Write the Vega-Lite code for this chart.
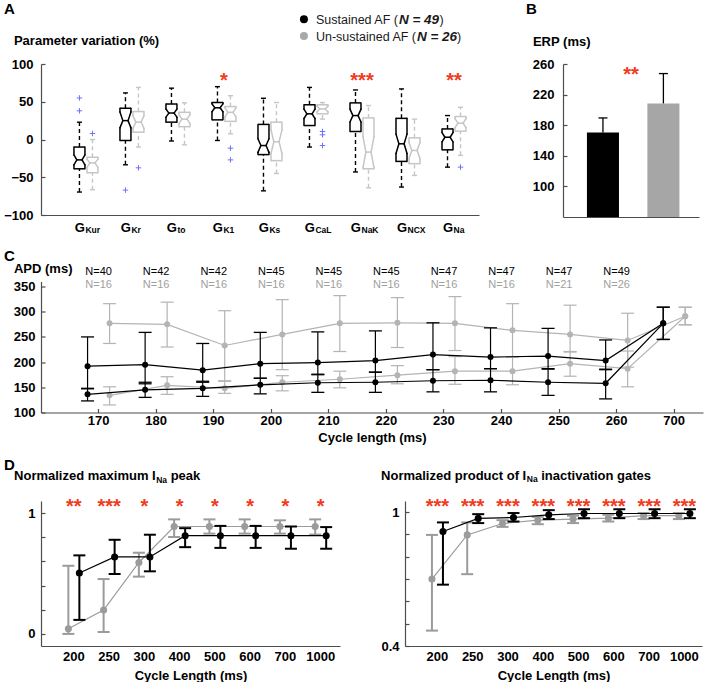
{
"$schema":"https://vega.github.io/schema/vega-lite/v6.json",
"background":"white",
"padding":{"left":3,"top":1,"right":3,"bottom":0},
"spacing":13.5,
"config":{
 "font":"Liberation Sans",
 "view":{"stroke":null},
 "axis":{"domainColor":"#4d4d4d","domainWidth":1.2,"tickColor":"#4d4d4d","tickWidth":1.2,"labelFont":"Liberation Sans","labelFontWeight":"bold","labelFontSize":13,"labelColor":"#000000","labelOverlap":false,"labelFlush":false,"titleFont":"Liberation Sans","titleFontWeight":"bold","titleFontSize":13,"titleColor":"#000000","grid":false},
 "tick":{"opacity":1},
 "point":{"opacity":1},
 "text":{"font":"Liberation Sans"}
},
"datasets":{
 "abox":[
  {"g":"GKur","grp":"S","wlo":-69.6,"q1":-38.8,"nlo":-33.5,"med":-27,"nhi":-20.5,"q3":-10,"whi":22.9},
  {"g":"GKur","grp":"U","wlo":-66.5,"q1":-44,"nlo":-37.2,"med":-31,"nhi":-26,"q3":-23.5,"whi":0},
  {"g":"GKr","grp":"S","wlo":-33.5,"q1":-1.3,"nlo":15.4,"med":25,"nhi":36.5,"q3":41.4,"whi":61.7},
  {"g":"GKr","grp":"U","wlo":-10,"q1":9.7,"nlo":14.7,"med":23,"nhi":31.3,"q3":37,"whi":69},
  {"g":"Gto","grp":"S","wlo":-2,"q1":23,"nlo":29.6,"med":35,"nhi":40.4,"q3":47,"whi":68},
  {"g":"Gto","grp":"U","wlo":-7,"q1":17,"nlo":21.1,"med":27,"nhi":32.9,"q3":36,"whi":48.5},
  {"g":"GK1","grp":"S","wlo":-1.3,"q1":26,"nlo":36.8,"med":42,"nhi":47.2,"q3":49,"whi":70},
  {"g":"GK1","grp":"U","wlo":7.5,"q1":24,"nlo":30,"med":36,"nhi":42,"q3":43.6,"whi":58},
  {"g":"GKs","grp":"S","wlo":-68,"q1":-20,"nlo":-17,"med":-8,"nhi":1,"q3":20,"whi":54.6},
  {"g":"GKs","grp":"U","wlo":-45,"q1":-28,"nlo":-18.7,"med":-3,"nhi":12.7,"q3":23,"whi":49},
  {"g":"GCaL","grp":"S","wlo":-10,"q1":18.5,"nlo":27.8,"med":34,"nhi":40.2,"q3":46,"whi":69},
  {"g":"GCaL","grp":"U","wlo":27,"q1":34,"nlo":36.8,"med":40.5,"nhi":44.2,"q3":46,"whi":49},
  {"g":"GNaK","grp":"S","wlo":-43,"q1":10.6,"nlo":23.2,"med":31.7,"nhi":40.2,"q3":48.5,"whi":65.6},
  {"g":"GNaK","grp":"U","wlo":-64,"q1":-38.8,"nlo":-37.4,"med":-16.7,"nhi":4,"q3":28.6,"whi":45},
  {"g":"GNCX","grp":"S","wlo":-63,"q1":-29,"nlo":-18.5,"med":-5.7,"nhi":7.1,"q3":28,"whi":67},
  {"g":"GNCX","grp":"U","wlo":-47.6,"q1":-32,"nlo":-25,"med":-14.5,"nhi":-4,"q3":2.2,"whi":27},
  {"g":"GNa","grp":"S","wlo":-36.6,"q1":-13.7,"nlo":-3.2,"med":3,"nhi":9.2,"q3":14,"whi":31.7},
  {"g":"GNa","grp":"U","wlo":-21,"q1":11,"nlo":15.6,"med":21.6,"nhi":27.6,"q3":30.4,"whi":42.7}
 ],
 "aout":[
  {"g":"GKur","grp":"S","v":55},{"g":"GKur","grp":"S","v":38},{"g":"GKur","grp":"U","v":8},
  {"g":"GKr","grp":"S","v":-67},{"g":"GKr","grp":"U","v":-37.5},
  {"g":"GK1","grp":"U","v":-11.5},{"g":"GK1","grp":"U","v":-27},
  {"g":"GCaL","grp":"U","v":10.6},{"g":"GCaL","grp":"U","v":6.2},{"g":"GCaL","grp":"U","v":-8},
  {"g":"GNa","grp":"U","v":-36.6}
 ],
 "alab":[{"g":"GKur","sub":"Kur"},{"g":"GKr","sub":"Kr"},{"g":"Gto","sub":"to"},{"g":"GK1","sub":"K1"},{"g":"GKs","sub":"Ks"},{"g":"GCaL","sub":"CaL"},{"g":"GNaK","sub":"NaK"},{"g":"GNCX","sub":"NCX"},{"g":"GNa","sub":"Na"}],
 "astar":[{"g":"GK1","s":"*"},{"g":"GNaK","s":"***"},{"g":"GNa","s":"**"}],
 "leg":[{"grp":"S","lab":"Sustained AF (","n":"N = 49"},{"grp":"U","lab":"Un-sustained AF (","n":"N = 26"}],
 "b":[{"grp":"S","v":170.5,"hi":189.5},{"grp":"U","v":208.5,"hi":247.5}],
 "c":[
  {"cl":170,"grp":"S","ser":"a","v":192,"lo":147,"hi":250},
  {"cl":180,"grp":"S","ser":"a","v":195,"lo":157,"hi":259},
  {"cl":190,"grp":"S","ser":"a","v":184,"lo":160,"hi":237},
  {"cl":200,"grp":"S","ser":"a","v":197,"lo":168,"hi":259},
  {"cl":210,"grp":"S","ser":"a","v":199,"lo":175,"hi":260},
  {"cl":220,"grp":"S","ser":"a","v":203,"lo":180,"hi":262},
  {"cl":230,"grp":"S","ser":"a","v":215,"lo":185,"hi":278},
  {"cl":240,"grp":"S","ser":"a","v":210,"lo":187,"hi":268},
  {"cl":250,"grp":"S","ser":"a","v":212,"lo":187,"hi":267},
  {"cl":260,"grp":"S","ser":"a","v":203,"lo":186,"hi":244},
  {"cl":700,"grp":"S","ser":"a","v":277,"lo":245,"hi":309},
  {"cl":170,"grp":"S","ser":"b","v":136,"lo":123,"hi":148},
  {"cl":180,"grp":"S","ser":"b","v":145,"lo":130,"hi":160},
  {"cl":190,"grp":"S","ser":"b","v":148,"lo":132,"hi":162},
  {"cl":200,"grp":"S","ser":"b","v":155,"lo":137,"hi":168},
  {"cl":210,"grp":"S","ser":"b","v":159,"lo":140,"hi":176},
  {"cl":220,"grp":"S","ser":"b","v":160,"lo":140,"hi":180},
  {"cl":230,"grp":"S","ser":"b","v":163,"lo":141,"hi":185},
  {"cl":240,"grp":"S","ser":"b","v":164,"lo":141,"hi":187},
  {"cl":250,"grp":"S","ser":"b","v":160,"lo":134,"hi":186},
  {"cl":260,"grp":"S","ser":"b","v":158,"lo":127,"hi":185},
  {"cl":700,"grp":"S","ser":"b","v":277,"lo":245,"hi":309},
  {"cl":170,"grp":"U","ser":"a","v":277,"lo":237,"hi":316},
  {"cl":180,"grp":"U","ser":"a","v":275,"lo":230,"hi":319},
  {"cl":190,"grp":"U","ser":"a","v":233,"lo":162,"hi":302},
  {"cl":200,"grp":"U","ser":"a","v":255,"lo":185,"hi":324},
  {"cl":210,"grp":"U","ser":"a","v":277,"lo":221,"hi":332},
  {"cl":220,"grp":"U","ser":"a","v":278,"lo":229,"hi":328},
  {"cl":230,"grp":"U","ser":"a","v":277,"lo":223,"hi":330},
  {"cl":240,"grp":"U","ser":"a","v":263,"lo":210,"hi":316},
  {"cl":250,"grp":"U","ser":"a","v":255,"lo":220,"hi":313},
  {"cl":260,"grp":"U","ser":"a","v":243,"lo":190,"hi":297},
  {"cl":700,"grp":"U","ser":"a","v":291,"lo":274,"hi":309},
  {"cl":170,"grp":"U","ser":"b","v":134,"lo":115,"hi":151},
  {"cl":180,"grp":"U","ser":"b","v":154,"lo":136,"hi":171},
  {"cl":190,"grp":"U","ser":"b","v":148,"lo":138,"hi":163},
  {"cl":200,"grp":"U","ser":"b","v":160,"lo":143,"hi":173},
  {"cl":210,"grp":"U","ser":"b","v":166,"lo":149,"hi":182},
  {"cl":220,"grp":"U","ser":"b","v":174,"lo":157,"hi":193},
  {"cl":230,"grp":"U","ser":"b","v":182,"lo":156,"hi":211},
  {"cl":240,"grp":"U","ser":"b","v":182,"lo":155,"hi":210},
  {"cl":250,"grp":"U","ser":"b","v":197,"lo":172,"hi":221},
  {"cl":260,"grp":"U","ser":"b","v":187,"lo":151,"hi":222},
  {"cl":700,"grp":"U","ser":"b","v":291,"lo":274,"hi":309}
 ],
 "cn":[
  {"cl":170,"ns":"N=40","nu":"N=16"},{"cl":180,"ns":"N=42","nu":"N=16"},{"cl":190,"ns":"N=42","nu":"N=16"},
  {"cl":200,"ns":"N=45","nu":"N=16"},{"cl":210,"ns":"N=45","nu":"N=16"},{"cl":220,"ns":"N=45","nu":"N=16"},
  {"cl":230,"ns":"N=47","nu":"N=16"},{"cl":240,"ns":"N=47","nu":"N=16"},{"cl":250,"ns":"N=47","nu":"N=21"},
  {"cl":260,"ns":"N=49","nu":"N=26"}
 ],
 "dmax":[
  {"cl":200,"grp":"U","v":0.043,"lo":0,"hi":0.564},
  {"cl":250,"grp":"U","v":0.198,"lo":0.016,"hi":0.454},
  {"cl":300,"grp":"U","v":0.591,"lo":0.474,"hi":0.672},
  {"cl":400,"grp":"U","v":0.889,"lo":0.802,"hi":0.948},
  {"cl":500,"grp":"U","v":0.889,"lo":0.83,"hi":0.948},
  {"cl":600,"grp":"U","v":0.889,"lo":0.83,"hi":0.948},
  {"cl":700,"grp":"U","v":0.889,"lo":0.83,"hi":0.94},
  {"cl":1000,"grp":"U","v":0.889,"lo":0.822,"hi":0.948},
  {"cl":200,"grp":"S","v":0.504,"lo":0.116,"hi":0.65},
  {"cl":250,"grp":"S","v":0.637,"lo":0.496,"hi":0.779},
  {"cl":300,"grp":"S","v":0.637,"lo":0.518,"hi":0.821},
  {"cl":400,"grp":"S","v":0.813,"lo":0.718,"hi":0.875},
  {"cl":500,"grp":"S","v":0.813,"lo":0.712,"hi":0.894},
  {"cl":600,"grp":"S","v":0.813,"lo":0.712,"hi":0.894},
  {"cl":700,"grp":"S","v":0.813,"lo":0.705,"hi":0.889},
  {"cl":1000,"grp":"S","v":0.813,"lo":0.705,"hi":0.884}
 ],
 "dgate":[
  {"cl":200,"grp":"U","v":0.7,"lo":0.469,"hi":0.898},
  {"cl":250,"grp":"U","v":0.898,"lo":0.722,"hi":0.954},
  {"cl":300,"grp":"U","v":0.949,"lo":0.934,"hi":0.964},
  {"cl":400,"grp":"U","v":0.964,"lo":0.946,"hi":0.979},
  {"cl":500,"grp":"U","v":0.969,"lo":0.951,"hi":0.984},
  {"cl":600,"grp":"U","v":0.973,"lo":0.958,"hi":0.988},
  {"cl":700,"grp":"U","v":0.984,"lo":0.969,"hi":0.996},
  {"cl":1000,"grp":"U","v":0.984,"lo":0.969,"hi":0.996},
  {"cl":200,"grp":"S","v":0.913,"lo":0.675,"hi":0.954},
  {"cl":250,"grp":"S","v":0.972,"lo":0.951,"hi":0.991},
  {"cl":300,"grp":"S","v":0.976,"lo":0.958,"hi":0.996},
  {"cl":400,"grp":"S","v":0.988,"lo":0.969,"hi":1.009},
  {"cl":500,"grp":"S","v":0.994,"lo":0.973,"hi":1.013},
  {"cl":600,"grp":"S","v":0.994,"lo":0.973,"hi":1.013},
  {"cl":700,"grp":"S","v":0.994,"lo":0.973,"hi":1.013},
  {"cl":1000,"grp":"S","v":0.994,"lo":0.973,"hi":1.013}
 ],
 "dstar1":[{"cl":200,"s":"**"},{"cl":250,"s":"***"},{"cl":300,"s":"*"},{"cl":400,"s":"*"},{"cl":500,"s":"*"},{"cl":600,"s":"*"},{"cl":700,"s":"*"},{"cl":1000,"s":"*"}],
 "dstar2":[{"cl":200,"s":"***"},{"cl":250,"s":"***"},{"cl":300,"s":"***"},{"cl":400,"s":"***"},{"cl":500,"s":"***"},{"cl":600,"s":"***"},{"cl":700,"s":"***"},{"cl":1000,"s":"***"}]
},
"vconcat":[
  {"bounds":"flush","spacing":84,"hconcat":[
   {"width":438,"height":151,"data":{"name":"abox"},
    "encoding":{"x":{"field":"g","type":"nominal","scale":{"type":"band","domain":["GKur","GKr","Gto","GK1","GKs","GCaL","GNaK","GNCX","GNa"],"paddingInner":0,"paddingOuter":0.26,"align":0.917},"axis":{"labels":false,"ticks":false,"title":null}}},
    "layer":[
     {"transform":[{"filter":"datum.grp == 'S'"}],"mark":{"type":"rule","xOffset":-6.5,"strokeDash":[4,3],"strokeWidth":1.4,"color":"#000000"},"encoding":{"y":{"field":"q3","type":"quantitative","scale":{"domain":[-100,100]},"axis":{"values":[-100,-50,0,50,100],"tickCount":20,"title":null,"tickSize":-4,"labelPadding":12}},"y2":{"field":"whi"}}},
     {"transform":[{"filter":"datum.grp == 'S'"}],"mark":{"type":"rule","xOffset":-6.5,"strokeDash":[4,3],"strokeWidth":1.4,"color":"#000000"},"encoding":{"y":{"field":"wlo","type":"quantitative"},"y2":{"field":"q1"}}},
     {"transform":[{"filter":"datum.grp == 'S'"}],"mark":{"type":"tick","orient":"horizontal","xOffset":-6.5,"size":5,"thickness":1.4,"color":"#000000"},"encoding":{"y":{"field":"whi","type":"quantitative"}}},
     {"transform":[{"filter":"datum.grp == 'S'"}],"mark":{"type":"tick","orient":"horizontal","xOffset":-6.5,"size":5,"thickness":1.4,"color":"#000000"},"encoding":{"y":{"field":"wlo","type":"quantitative"}}},
     {"transform":[{"filter":"datum.grp == 'S'"}],"mark":{"type":"tick","orient":"horizontal","xOffset":-6.5,"size":11,"thickness":1.5,"color":"#000000"},"encoding":{"y":{"field":"q1","type":"quantitative"}}},
     {"transform":[{"filter":"datum.grp == 'S'"}],"mark":{"type":"tick","orient":"horizontal","xOffset":-6.5,"size":11,"thickness":1.5,"color":"#000000"},"encoding":{"y":{"field":"q3","type":"quantitative"}}},
     {"transform":[{"filter":"datum.grp == 'S'"}],"mark":{"type":"tick","orient":"horizontal","xOffset":-6.5,"size":5.2,"thickness":1.5,"color":"#000000"},"encoding":{"y":{"field":"med","type":"quantitative"}}},
     {"transform":[{"filter":"datum.grp == 'S'"}],"mark":{"type":"rule","xOffset":-12,"strokeWidth":1.5,"color":"#000000","strokeCap":"round"},"encoding":{"y":{"field":"q1","type":"quantitative"},"y2":{"field":"nlo"}}},
     {"transform":[{"filter":"datum.grp == 'S'"}],"mark":{"type":"rule","xOffset":-12,"x2Offset":-9.1,"strokeWidth":1.5,"color":"#000000","strokeCap":"round"},"encoding":{"x2":{"field":"g"},"y":{"field":"nlo","type":"quantitative"},"y2":{"field":"med"}}},
     {"transform":[{"filter":"datum.grp == 'S'"}],"mark":{"type":"rule","xOffset":-9.1,"x2Offset":-12,"strokeWidth":1.5,"color":"#000000","strokeCap":"round"},"encoding":{"x2":{"field":"g"},"y":{"field":"med","type":"quantitative"},"y2":{"field":"nhi"}}},
     {"transform":[{"filter":"datum.grp == 'S'"}],"mark":{"type":"rule","xOffset":-12,"strokeWidth":1.5,"color":"#000000","strokeCap":"round"},"encoding":{"y":{"field":"nhi","type":"quantitative"},"y2":{"field":"q3"}}},
     {"transform":[{"filter":"datum.grp == 'S'"}],"mark":{"type":"rule","xOffset":-1,"strokeWidth":1.5,"color":"#000000","strokeCap":"round"},"encoding":{"y":{"field":"q1","type":"quantitative"},"y2":{"field":"nlo"}}},
     {"transform":[{"filter":"datum.grp == 'S'"}],"mark":{"type":"rule","xOffset":-1,"x2Offset":-3.9,"strokeWidth":1.5,"color":"#000000","strokeCap":"round"},"encoding":{"x2":{"field":"g"},"y":{"field":"nlo","type":"quantitative"},"y2":{"field":"med"}}},
     {"transform":[{"filter":"datum.grp == 'S'"}],"mark":{"type":"rule","xOffset":-3.9,"x2Offset":-1,"strokeWidth":1.5,"color":"#000000","strokeCap":"round"},"encoding":{"x2":{"field":"g"},"y":{"field":"med","type":"quantitative"},"y2":{"field":"nhi"}}},
     {"transform":[{"filter":"datum.grp == 'S'"}],"mark":{"type":"rule","xOffset":-1,"strokeWidth":1.5,"color":"#000000","strokeCap":"round"},"encoding":{"y":{"field":"nhi","type":"quantitative"},"y2":{"field":"q3"}}},

     {"transform":[{"filter":"datum.grp == 'U'"}],"mark":{"type":"rule","xOffset":6.5,"strokeDash":[4,3],"strokeWidth":1.4,"color":"#c6c6c6"},"encoding":{"y":{"field":"q3","type":"quantitative"},"y2":{"field":"whi"}}},
     {"transform":[{"filter":"datum.grp == 'U'"}],"mark":{"type":"rule","xOffset":6.5,"strokeDash":[4,3],"strokeWidth":1.4,"color":"#c6c6c6"},"encoding":{"y":{"field":"wlo","type":"quantitative"},"y2":{"field":"q1"}}},
     {"transform":[{"filter":"datum.grp == 'U'"}],"mark":{"type":"tick","orient":"horizontal","xOffset":6.5,"size":5,"thickness":1.4,"color":"#c6c6c6"},"encoding":{"y":{"field":"whi","type":"quantitative"}}},
     {"transform":[{"filter":"datum.grp == 'U'"}],"mark":{"type":"tick","orient":"horizontal","xOffset":6.5,"size":5,"thickness":1.4,"color":"#c6c6c6"},"encoding":{"y":{"field":"wlo","type":"quantitative"}}},
     {"transform":[{"filter":"datum.grp == 'U'"}],"mark":{"type":"tick","orient":"horizontal","xOffset":6.5,"size":11,"thickness":1.5,"color":"#c6c6c6"},"encoding":{"y":{"field":"q1","type":"quantitative"}}},
     {"transform":[{"filter":"datum.grp == 'U'"}],"mark":{"type":"tick","orient":"horizontal","xOffset":6.5,"size":11,"thickness":1.5,"color":"#c6c6c6"},"encoding":{"y":{"field":"q3","type":"quantitative"}}},
     {"transform":[{"filter":"datum.grp == 'U'"}],"mark":{"type":"tick","orient":"horizontal","xOffset":6.5,"size":5.2,"thickness":1.5,"color":"#c6c6c6"},"encoding":{"y":{"field":"med","type":"quantitative"}}},
     {"transform":[{"filter":"datum.grp == 'U'"}],"mark":{"type":"rule","xOffset":1,"strokeWidth":1.5,"color":"#c6c6c6","strokeCap":"round"},"encoding":{"y":{"field":"q1","type":"quantitative"},"y2":{"field":"nlo"}}},
     {"transform":[{"filter":"datum.grp == 'U'"}],"mark":{"type":"rule","xOffset":1,"x2Offset":3.9,"strokeWidth":1.5,"color":"#c6c6c6","strokeCap":"round"},"encoding":{"x2":{"field":"g"},"y":{"field":"nlo","type":"quantitative"},"y2":{"field":"med"}}},
     {"transform":[{"filter":"datum.grp == 'U'"}],"mark":{"type":"rule","xOffset":3.9,"x2Offset":1,"strokeWidth":1.5,"color":"#c6c6c6","strokeCap":"round"},"encoding":{"x2":{"field":"g"},"y":{"field":"med","type":"quantitative"},"y2":{"field":"nhi"}}},
     {"transform":[{"filter":"datum.grp == 'U'"}],"mark":{"type":"rule","xOffset":1,"strokeWidth":1.5,"color":"#c6c6c6","strokeCap":"round"},"encoding":{"y":{"field":"nhi","type":"quantitative"},"y2":{"field":"q3"}}},
     {"transform":[{"filter":"datum.grp == 'U'"}],"mark":{"type":"rule","xOffset":12,"strokeWidth":1.5,"color":"#c6c6c6","strokeCap":"round"},"encoding":{"y":{"field":"q1","type":"quantitative"},"y2":{"field":"nlo"}}},
     {"transform":[{"filter":"datum.grp == 'U'"}],"mark":{"type":"rule","xOffset":12,"x2Offset":9.1,"strokeWidth":1.5,"color":"#c6c6c6","strokeCap":"round"},"encoding":{"x2":{"field":"g"},"y":{"field":"nlo","type":"quantitative"},"y2":{"field":"med"}}},
     {"transform":[{"filter":"datum.grp == 'U'"}],"mark":{"type":"rule","xOffset":9.1,"x2Offset":12,"strokeWidth":1.5,"color":"#c6c6c6","strokeCap":"round"},"encoding":{"x2":{"field":"g"},"y":{"field":"med","type":"quantitative"},"y2":{"field":"nhi"}}},
     {"transform":[{"filter":"datum.grp == 'U'"}],"mark":{"type":"rule","xOffset":12,"strokeWidth":1.5,"color":"#c6c6c6","strokeCap":"round"},"encoding":{"y":{"field":"nhi","type":"quantitative"},"y2":{"field":"q3"}}},

     {"data":{"name":"aout"},"transform":[{"filter":"datum.grp == 'S'"}],"mark":{"type":"point","shape":"M-1,0L1,0M0,-1L0,1","filled":false,"color":"#7070ff","strokeWidth":1,"size":30,"xOffset":-6.5},"encoding":{"y":{"field":"v","type":"quantitative"}}},
     {"data":{"name":"aout"},"transform":[{"filter":"datum.grp == 'U'"}],"mark":{"type":"point","shape":"M-1,0L1,0M0,-1L0,1","filled":false,"color":"#7070ff","strokeWidth":1,"size":30,"xOffset":6.5},"encoding":{"y":{"field":"v","type":"quantitative"}}},

     {"data":{"name":"astar"},"mark":{"type":"text","fontSize":20,"fontWeight":"bold","color":"#f03c1e","align":"center","baseline":"alphabetic"},"encoding":{"y":{"datum":70.1,"type":"quantitative"},"text":{"field":"s"}}},
     {"data":{"name":"alab"},"mark":{"type":"text","text":"G","fontSize":13,"fontWeight":"bold","color":"#000000","align":"right","baseline":"alphabetic","dx":-1},"encoding":{"y":{"datum":-122.5,"type":"quantitative"}}},
     {"data":{"name":"alab"},"mark":{"type":"text","fontSize":8.5,"fontWeight":"bold","color":"#000000","align":"left","baseline":"alphabetic","dx":-0.5,"dy":1.5},"encoding":{"y":{"datum":-122.5,"type":"quantitative"},"text":{"field":"sub"}}},
     {"data":{"values":[{}]},"mark":{"type":"text","text":"A","fontSize":15,"fontWeight":"bold","color":"#000000","align":"left","baseline":"alphabetic","dx":-82},"encoding":{"x":{"datum":"GKur","type":"nominal"},"y":{"datum":166.2,"type":"quantitative"}}},
     {"data":{"values":[{}]},"mark":{"type":"text","text":"Parameter variation (%)","fontSize":13,"fontWeight":"bold","color":"#000000","align":"left","baseline":"alphabetic","dx":-72},"encoding":{"x":{"datum":"GKur","type":"nominal"},"y":{"datum":125.2,"type":"quantitative"}}},

     {"data":{"name":"leg"},"transform":[{"filter":"datum.grp == 'S'"}],"mark":{"type":"point","filled":true,"size":64,"color":"#000000","xOffset":218},"encoding":{"x":{"datum":"GKur","type":"nominal"},"y":{"datum":159.2,"type":"quantitative"}}},
     {"data":{"name":"leg"},"transform":[{"filter":"datum.grp == 'U'"}],"mark":{"type":"point","filled":true,"size":64,"color":"#a9a9a9","xOffset":218},"encoding":{"x":{"datum":"GKur","type":"nominal"},"y":{"datum":137.1,"type":"quantitative"}}},
     {"data":{"name":"leg"},"transform":[{"filter":"datum.grp == 'S'"}],"mark":{"type":"text","fontSize":12.5,"color":"#1a1a1a","align":"left","baseline":"alphabetic","dx":230},"encoding":{"x":{"datum":"GKur","type":"nominal"},"y":{"datum":152.6,"type":"quantitative"},"text":{"field":"lab"}}},
     {"data":{"name":"leg"},"transform":[{"filter":"datum.grp == 'S'"}],"mark":{"type":"text","fontSize":13.5,"fontWeight":"bold","fontStyle":"italic","color":"#1a1a1a","align":"left","baseline":"alphabetic","dx":313},"encoding":{"x":{"datum":"GKur","type":"nominal"},"y":{"datum":152.6,"type":"quantitative"},"text":{"field":"n"}}},
     {"data":{"name":"leg"},"transform":[{"filter":"datum.grp == 'S'"}],"mark":{"type":"text","text":")","fontSize":12.5,"color":"#1a1a1a","align":"left","baseline":"alphabetic","dx":353.5},"encoding":{"x":{"datum":"GKur","type":"nominal"},"y":{"datum":152.6,"type":"quantitative"}}},
     {"data":{"name":"leg"},"transform":[{"filter":"datum.grp == 'U'"}],"mark":{"type":"text","fontSize":12.5,"color":"#1a1a1a","align":"left","baseline":"alphabetic","dx":230},"encoding":{"x":{"datum":"GKur","type":"nominal"},"y":{"datum":130.5,"type":"quantitative"},"text":{"field":"lab"}}},
     {"data":{"name":"leg"},"transform":[{"filter":"datum.grp == 'U'"}],"mark":{"type":"text","fontSize":13.5,"fontWeight":"bold","fontStyle":"italic","color":"#1a1a1a","align":"left","baseline":"alphabetic","dx":331},"encoding":{"x":{"datum":"GKur","type":"nominal"},"y":{"datum":130.5,"type":"quantitative"},"text":{"field":"n"}}},
     {"data":{"name":"leg"},"transform":[{"filter":"datum.grp == 'U'"}],"mark":{"type":"text","text":")","fontSize":12.5,"color":"#1a1a1a","align":"left","baseline":"alphabetic","dx":371},"encoding":{"x":{"datum":"GKur","type":"nominal"},"y":{"datum":130.5,"type":"quantitative"}}}
    ]
   },
   {"width":136,"height":153,"data":{"name":"b"},
    "encoding":{"x":{"field":"grp","type":"nominal","scale":{"type":"band","domain":["S","U"],"paddingInner":0.47,"paddingOuter":0.36,"align":0.55},"axis":{"labels":false,"ticks":false,"title":null}}},
    "layer":[
     {"mark":{"type":"bar","clip":true},"encoding":{"y":{"field":"v","type":"quantitative","scale":{"domain":[60,260]},"axis":{"values":[100,140,180,220,260],"tickCount":20,"title":null,"tickSize":-4,"labelPadding":13}},"color":{"field":"grp","type":"nominal","scale":{"domain":["S","U"],"range":["#000000","#a6a6a6"]},"legend":null}}},
     {"mark":{"type":"rule","color":"#000000","strokeWidth":1.3},"encoding":{"y":{"field":"v","type":"quantitative"},"y2":{"field":"hi"}}},
     {"mark":{"type":"tick","orient":"horizontal","size":9,"thickness":1.3,"color":"#000000"},"encoding":{"y":{"field":"hi","type":"quantitative"}}},
     {"data":{"values":[{}]},"mark":{"type":"text","text":"**","fontSize":20,"fontWeight":"bold","color":"#f03c1e","align":"center","baseline":"alphabetic","dx":28},"encoding":{"x":{"datum":"S","type":"nominal"},"y":{"datum":238.3,"type":"quantitative"}}},
     {"data":{"values":[{}]},"mark":{"type":"text","text":"B","fontSize":15,"fontWeight":"bold","color":"#000000","align":"left","baseline":"alphabetic","dx":-77},"encoding":{"x":{"datum":"S","type":"nominal"},"y":{"datum":325.4,"type":"quantitative"}}},
     {"data":{"values":[{}]},"mark":{"type":"text","text":"ERP (ms)","fontSize":13,"fontWeight":"bold","color":"#000000","align":"left","baseline":"alphabetic","dx":-70},"encoding":{"x":{"datum":"S","type":"nominal"},"y":{"datum":283.5,"type":"quantitative"}}}
    ]
   }
  ]},
  {"width":662,"height":131,"data":{"name":"c"},
   "encoding":{"x":{"field":"cl","type":"ordinal","scale":{"type":"band","domain":[170,180,190,200,210,220,230,240,250,260,700],"paddingInner":0,"paddingOuter":0.25,"align":1},"axis":{"title":"Cycle length (ms)","labelAngle":0,"tickSize":-4,"labelPadding":6,"titlePadding":4}}},
   "layer":[
    {"transform":[{"filter":"datum.grp == 'U'"}],"mark":{"type":"line","xOffset":11,"color":"#b4b4b4","strokeWidth":1.2},"encoding":{"y":{"field":"v","type":"quantitative","scale":{"domain":[100,350]},"axis":{"values":[100,150,200,250,300,350],"tickCount":20,"title":null,"tickSize":-4,"labelPadding":10}},"detail":{"field":"ser"}}},
    {"transform":[{"filter":"datum.grp == 'U'"}],"mark":{"type":"rule","xOffset":11,"color":"#b4b4b4","strokeWidth":1.2},"encoding":{"y":{"field":"lo","type":"quantitative"},"y2":{"field":"hi"}}},
    {"transform":[{"filter":"datum.grp == 'U'"}],"mark":{"type":"tick","orient":"horizontal","xOffset":11,"size":13,"thickness":1.2,"color":"#b4b4b4"},"encoding":{"y":{"field":"lo","type":"quantitative"}}},
    {"transform":[{"filter":"datum.grp == 'U'"}],"mark":{"type":"tick","orient":"horizontal","xOffset":11,"size":13,"thickness":1.2,"color":"#b4b4b4"},"encoding":{"y":{"field":"hi","type":"quantitative"}}},
    {"transform":[{"filter":"datum.grp == 'U'"}],"mark":{"type":"point","filled":true,"xOffset":11,"size":36,"color":"#b4b4b4"},"encoding":{"y":{"field":"v","type":"quantitative"}}},
    {"transform":[{"filter":"datum.grp == 'S'"}],"mark":{"type":"line","xOffset":-11,"color":"#000000","strokeWidth":1.2},"encoding":{"y":{"field":"v","type":"quantitative"},"detail":{"field":"ser"}}},
    {"transform":[{"filter":"datum.grp == 'S'"}],"mark":{"type":"rule","xOffset":-11,"color":"#000000","strokeWidth":1.2},"encoding":{"y":{"field":"lo","type":"quantitative"},"y2":{"field":"hi"}}},
    {"transform":[{"filter":"datum.grp == 'S'"}],"mark":{"type":"tick","orient":"horizontal","xOffset":-11,"size":13,"thickness":1.3,"color":"#000000"},"encoding":{"y":{"field":"lo","type":"quantitative"}}},
    {"transform":[{"filter":"datum.grp == 'S'"}],"mark":{"type":"tick","orient":"horizontal","xOffset":-11,"size":13,"thickness":1.3,"color":"#000000"},"encoding":{"y":{"field":"hi","type":"quantitative"}}},
    {"transform":[{"filter":"datum.grp == 'S'"}],"mark":{"type":"point","filled":true,"xOffset":-11,"size":36,"color":"#000000"},"encoding":{"y":{"field":"v","type":"quantitative"}}},
    {"data":{"name":"cn"},"mark":{"type":"text","fontSize":11,"color":"#000000","align":"center","baseline":"middle"},"encoding":{"y":{"datum":378.6,"type":"quantitative"},"text":{"field":"ns"}}},
    {"data":{"name":"cn"},"mark":{"type":"text","fontSize":11,"color":"#a0a0a0","align":"center","baseline":"middle"},"encoding":{"y":{"datum":353.8,"type":"quantitative"},"text":{"field":"nu"}}},
    {"data":{"values":[{}]},"mark":{"type":"text","text":"C","fontSize":15,"fontWeight":"bold","color":"#000000","align":"left","baseline":"alphabetic","dx":-94.6},"encoding":{"x":{"datum":170,"type":"ordinal"},"y":{"datum":401.5,"type":"quantitative"}}},
    {"data":{"values":[{}]},"mark":{"type":"text","text":"APD (ms)","fontSize":13,"fontWeight":"bold","color":"#000000","align":"left","baseline":"alphabetic","dx":-84.6},"encoding":{"x":{"datum":170,"type":"ordinal"},"y":{"datum":376.7,"type":"quantitative"}}}
   ]
  },
 {"bounds":"flush","spacing":65,"hconcat":[
  {"width":299,"height":145,"data":{"name":"dmax"},
   "encoding":{"x":{"field":"cl","type":"ordinal","scale":{"type":"band","domain":[200,250,300,400,500,600,700,1000],"paddingInner":0,"paddingOuter":0.24,"align":0.9},"axis":{"title":"Cycle Length (ms)","labelAngle":0,"ticks":false,"tickSize":0,"labelPadding":4,"titlePadding":6}}},
   "layer":[
    {"transform":[{"filter":"datum.grp == 'U'"}],"mark":{"type":"line","xOffset":-5.5,"color":"#9b9b9b","strokeWidth":1.2},"encoding":{"y":{"field":"v","type":"quantitative","scale":{"domain":[-0.094,1.086]},"axis":{"values":[0,0.2,0.4,0.6,0.8,1],"tickCount":20,"format":"~g","labelExpr":"datum.value == 0 || datum.value == 1 ? datum.label : ''","title":null,"tickSize":-4,"labelPadding":10}}}},
    {"transform":[{"filter":"datum.grp == 'U'"}],"mark":{"type":"rule","xOffset":-5.5,"color":"#9b9b9b","strokeWidth":2},"encoding":{"y":{"field":"lo","type":"quantitative"},"y2":{"field":"hi"}}},
    {"transform":[{"filter":"datum.grp == 'U'"}],"mark":{"type":"tick","orient":"horizontal","xOffset":-5.5,"size":12,"thickness":2,"color":"#9b9b9b"},"encoding":{"y":{"field":"lo","type":"quantitative"}}},
    {"transform":[{"filter":"datum.grp == 'U'"}],"mark":{"type":"tick","orient":"horizontal","xOffset":-5.5,"size":12,"thickness":2,"color":"#9b9b9b"},"encoding":{"y":{"field":"hi","type":"quantitative"}}},
    {"transform":[{"filter":"datum.grp == 'U'"}],"mark":{"type":"point","filled":true,"xOffset":-5.5,"size":50,"color":"#9b9b9b"},"encoding":{"y":{"field":"v","type":"quantitative"}}},
    {"transform":[{"filter":"datum.grp == 'S'"}],"mark":{"type":"line","xOffset":5.5,"color":"#000000","strokeWidth":1.2},"encoding":{"y":{"field":"v","type":"quantitative"}}},
    {"transform":[{"filter":"datum.grp == 'S'"}],"mark":{"type":"rule","xOffset":5.5,"color":"#000000","strokeWidth":2},"encoding":{"y":{"field":"lo","type":"quantitative"},"y2":{"field":"hi"}}},
    {"transform":[{"filter":"datum.grp == 'S'"}],"mark":{"type":"tick","orient":"horizontal","xOffset":5.5,"size":12,"thickness":2,"color":"#000000"},"encoding":{"y":{"field":"lo","type":"quantitative"}}},
    {"transform":[{"filter":"datum.grp == 'S'"}],"mark":{"type":"tick","orient":"horizontal","xOffset":5.5,"size":12,"thickness":2,"color":"#000000"},"encoding":{"y":{"field":"hi","type":"quantitative"}}},
    {"transform":[{"filter":"datum.grp == 'S'"}],"mark":{"type":"point","filled":true,"xOffset":5.5,"size":50,"color":"#000000"},"encoding":{"y":{"field":"v","type":"quantitative"}}},
    {"data":{"name":"dstar1"},"mark":{"type":"text","fontSize":20,"fontWeight":"bold","color":"#f03c1e","align":"center","baseline":"alphabetic"},"encoding":{"y":{"datum":0.998,"type":"quantitative"},"text":{"field":"s"}}},
    {"data":{"values":[{}]},"mark":{"type":"text","text":"D","fontSize":15,"fontWeight":"bold","color":"#000000","align":"left","baseline":"alphabetic","dx":-69.8},"encoding":{"x":{"datum":200,"type":"ordinal"},"y":{"datum":1.354,"type":"quantitative"}}},
    {"data":{"values":[{}]},"mark":{"type":"text","text":"Normalized maximum I","fontSize":13,"fontWeight":"bold","color":"#000000","align":"left","baseline":"alphabetic","dx":-59.8},"encoding":{"x":{"datum":200,"type":"ordinal"},"y":{"datum":1.273,"type":"quantitative"}}},
    {"data":{"values":[{}]},"mark":{"type":"text","text":"Na","fontSize":8.5,"fontWeight":"bold","color":"#000000","align":"left","baseline":"alphabetic","dx":82.3,"dy":2.5},"encoding":{"x":{"datum":200,"type":"ordinal"},"y":{"datum":1.273,"type":"quantitative"}}},
    {"data":{"values":[{}]},"mark":{"type":"text","text":"peak","fontSize":13,"fontWeight":"bold","color":"#000000","align":"left","baseline":"alphabetic","dx":96.8},"encoding":{"x":{"datum":200,"type":"ordinal"},"y":{"datum":1.273,"type":"quantitative"}}}
   ]
  },
  {"width":297,"height":145,"data":{"name":"dgate"},
   "encoding":{"x":{"field":"cl","type":"ordinal","scale":{"type":"band","domain":[200,250,300,400,500,600,700,1000],"paddingInner":0,"paddingOuter":0.21,"align":1},"axis":{"title":"Cycle Length (ms)","labelAngle":0,"ticks":false,"tickSize":0,"labelPadding":4,"titlePadding":6}}},
   "layer":[
    {"transform":[{"filter":"datum.grp == 'U'"}],"mark":{"type":"line","xOffset":-5.5,"color":"#9b9b9b","strokeWidth":1.2},"encoding":{"y":{"field":"v","type":"quantitative","scale":{"domain":[0.4,1.044]},"axis":{"values":[0.4,0.5,0.6,0.7,0.8,0.9,1],"tickCount":20,"format":"~g","labelExpr":"datum.value == 0.4 || datum.value == 1 ? datum.label : ''","title":null,"tickSize":-4,"labelPadding":10}}}},
    {"transform":[{"filter":"datum.grp == 'U'"}],"mark":{"type":"rule","xOffset":-5.5,"color":"#9b9b9b","strokeWidth":2},"encoding":{"y":{"field":"lo","type":"quantitative"},"y2":{"field":"hi"}}},
    {"transform":[{"filter":"datum.grp == 'U'"}],"mark":{"type":"tick","orient":"horizontal","xOffset":-5.5,"size":12,"thickness":2,"color":"#9b9b9b"},"encoding":{"y":{"field":"lo","type":"quantitative"}}},
    {"transform":[{"filter":"datum.grp == 'U'"}],"mark":{"type":"tick","orient":"horizontal","xOffset":-5.5,"size":12,"thickness":2,"color":"#9b9b9b"},"encoding":{"y":{"field":"hi","type":"quantitative"}}},
    {"transform":[{"filter":"datum.grp == 'U'"}],"mark":{"type":"point","filled":true,"xOffset":-5.5,"size":50,"color":"#9b9b9b"},"encoding":{"y":{"field":"v","type":"quantitative"}}},
    {"transform":[{"filter":"datum.grp == 'S'"}],"mark":{"type":"line","xOffset":5.5,"color":"#000000","strokeWidth":1.2},"encoding":{"y":{"field":"v","type":"quantitative"}}},
    {"transform":[{"filter":"datum.grp == 'S'"}],"mark":{"type":"rule","xOffset":5.5,"color":"#000000","strokeWidth":2},"encoding":{"y":{"field":"lo","type":"quantitative"},"y2":{"field":"hi"}}},
    {"transform":[{"filter":"datum.grp == 'S'"}],"mark":{"type":"tick","orient":"horizontal","xOffset":5.5,"size":12,"thickness":2,"color":"#000000"},"encoding":{"y":{"field":"lo","type":"quantitative"}}},
    {"transform":[{"filter":"datum.grp == 'S'"}],"mark":{"type":"tick","orient":"horizontal","xOffset":5.5,"size":12,"thickness":2,"color":"#000000"},"encoding":{"y":{"field":"hi","type":"quantitative"}}},
    {"transform":[{"filter":"datum.grp == 'S'"}],"mark":{"type":"point","filled":true,"xOffset":5.5,"size":50,"color":"#000000"},"encoding":{"y":{"field":"v","type":"quantitative"}}},
    {"data":{"name":"dstar2"},"mark":{"type":"text","fontSize":20,"fontWeight":"bold","color":"#f03c1e","align":"center","baseline":"alphabetic"},"encoding":{"y":{"datum":0.997,"type":"quantitative"},"text":{"field":"s"}}},
    {"data":{"values":[{}]},"mark":{"type":"text","text":"Normalized product of I","fontSize":13,"fontWeight":"bold","color":"#000000","align":"left","baseline":"alphabetic","dx":-56.4},"encoding":{"x":{"datum":200,"type":"ordinal"},"y":{"datum":1.146,"type":"quantitative"}}},
    {"data":{"values":[{}]},"mark":{"type":"text","text":"Na","fontSize":8.5,"fontWeight":"bold","color":"#000000","align":"left","baseline":"alphabetic","dx":89.3,"dy":2.5},"encoding":{"x":{"datum":200,"type":"ordinal"},"y":{"datum":1.146,"type":"quantitative"}}},
    {"data":{"values":[{}]},"mark":{"type":"text","text":"inactivation gates","fontSize":13,"fontWeight":"bold","color":"#000000","align":"left","baseline":"alphabetic","dx":103.8},"encoding":{"x":{"datum":200,"type":"ordinal"},"y":{"datum":1.146,"type":"quantitative"}}}
   ]
  }
 ]}
]
}
